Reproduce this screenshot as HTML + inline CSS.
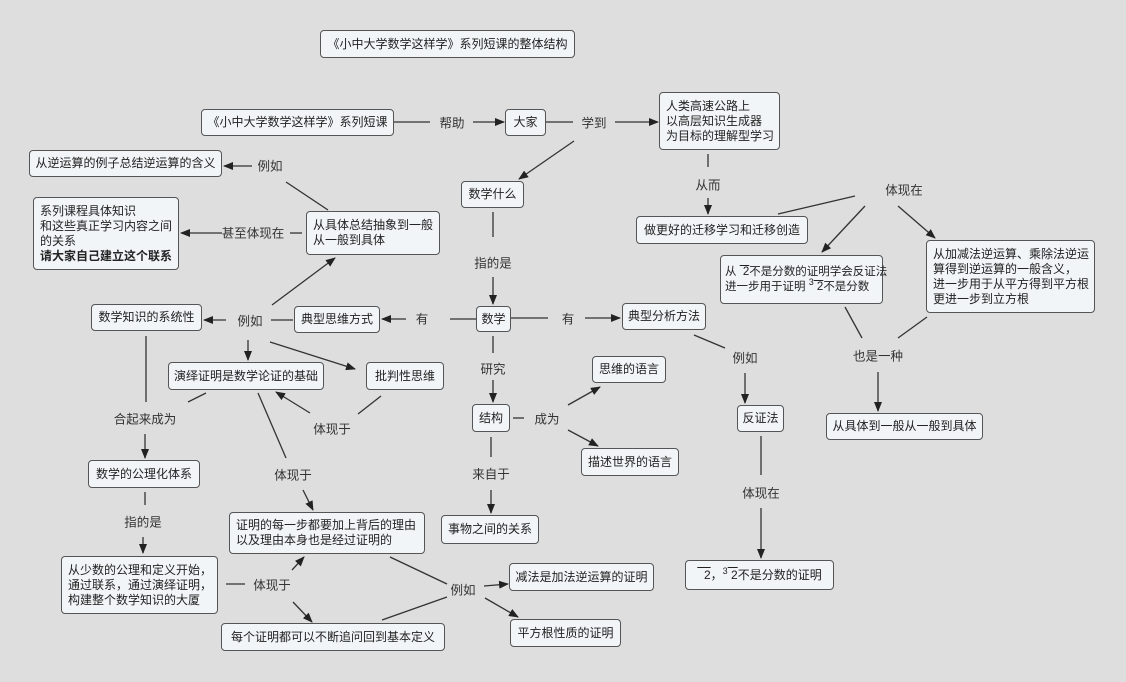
<!DOCTYPE html>
<html><head><meta charset="utf-8"><style>
body{margin:0;width:1126px;height:682px;background:#dedede;position:relative;overflow:hidden;font-family:"Liberation Sans","Noto Sans CJK SC",sans-serif;font-size:12px;color:#222}
.n{position:absolute;box-sizing:border-box;background:#f1f5f7;border:1.5px solid #555;border-radius:4px;padding:3px 6px;line-height:15px;white-space:nowrap;display:flex;flex-direction:column;justify-content:center}
.c{align-items:center}
.l{position:absolute;transform:translate(-50%,-50%);white-space:nowrap;font-size:12.5px;color:#333}
svg{position:absolute;left:0;top:0}
.ov{text-decoration:overline}
sup{font-size:9px;line-height:0}
</style></head><body>
<svg width="1126" height="682">
<defs><marker id="a" markerWidth="10" markerHeight="8" refX="9" refY="4" orient="auto" markerUnits="userSpaceOnUse"><path d="M0,0 L10,4 L0,8 z" fill="#222"/></marker></defs>
<g stroke="#333" stroke-width="1.3" fill="none">
<line x1="394" y1="122" x2="430" y2="122"/><line x1="473" y1="122" x2="504" y2="122" marker-end="url(#a)"/>
<line x1="546" y1="122" x2="573" y2="122"/><line x1="615" y1="122" x2="658" y2="122" marker-end="url(#a)"/>
<line x1="574" y1="141" x2="519" y2="179" marker-end="url(#a)"/>
<line x1="708" y1="154" x2="708" y2="167"/><line x1="708" y1="198" x2="708" y2="214" marker-end="url(#a)"/>
<line x1="778" y1="214" x2="855" y2="196"/>
<line x1="865" y1="206" x2="822" y2="252" marker-end="url(#a)"/>
<line x1="898" y1="206" x2="935" y2="238" marker-end="url(#a)"/>
<line x1="845" y1="307" x2="862" y2="338"/><line x1="898" y1="338" x2="927" y2="317"/>
<line x1="878" y1="372" x2="878" y2="411" marker-end="url(#a)"/>
<line x1="493" y1="212" x2="493" y2="237"/><line x1="493" y1="277" x2="493" y2="304" marker-end="url(#a)"/>
<line x1="476" y1="319" x2="450" y2="319"/><line x1="406" y1="319" x2="382" y2="319" marker-end="url(#a)"/>
<line x1="511" y1="318" x2="548" y2="318"/><line x1="585" y1="318" x2="620" y2="318" marker-end="url(#a)"/>
<line x1="694" y1="335" x2="725" y2="348"/><line x1="745" y1="373" x2="745" y2="403" marker-end="url(#a)"/>
<line x1="761" y1="436" x2="761" y2="475"/><line x1="761" y1="508" x2="761" y2="558" marker-end="url(#a)"/>
<line x1="493" y1="336" x2="493" y2="353"/><line x1="493" y1="380" x2="493" y2="402" marker-end="url(#a)"/>
<line x1="513" y1="418" x2="524" y2="418"/>
<line x1="568" y1="405" x2="600" y2="387" marker-end="url(#a)"/>
<line x1="568" y1="430" x2="598" y2="446" marker-end="url(#a)"/>
<line x1="491" y1="437" x2="491" y2="457"/><line x1="491" y1="490" x2="491" y2="513" marker-end="url(#a)"/>
<line x1="293" y1="320" x2="271" y2="320"/><line x1="226" y1="320" x2="204" y2="320" marker-end="url(#a)"/>
<line x1="272" y1="305" x2="335" y2="258" marker-end="url(#a)"/>
<line x1="248" y1="340" x2="248" y2="360" marker-end="url(#a)"/>
<line x1="270" y1="342" x2="355" y2="369" marker-end="url(#a)"/>
<line x1="328" y1="210" x2="286" y2="182"/><line x1="252" y1="166" x2="224" y2="166" marker-end="url(#a)"/>
<line x1="302" y1="233" x2="290" y2="233"/><line x1="222" y1="233" x2="181" y2="233" marker-end="url(#a)"/>
<line x1="146" y1="336" x2="146" y2="402"/><line x1="145" y1="434" x2="145" y2="458" marker-end="url(#a)"/>
<line x1="381" y1="396" x2="358" y2="414"/><line x1="310" y1="413" x2="276" y2="392" marker-end="url(#a)"/>
<line x1="206" y1="393" x2="188" y2="402"/>
<line x1="258" y1="393" x2="286" y2="458"/><line x1="303" y1="490" x2="313" y2="510" marker-end="url(#a)"/>
<line x1="145" y1="492" x2="145" y2="505"/><line x1="143" y1="537" x2="143" y2="553" marker-end="url(#a)"/>
<line x1="226" y1="584" x2="245" y2="584"/>
<line x1="292" y1="570" x2="304" y2="557" marker-end="url(#a)"/>
<line x1="293" y1="602" x2="312" y2="622" marker-end="url(#a)"/>
<line x1="390" y1="557" x2="447" y2="584"/><line x1="447" y1="597" x2="382" y2="620"/>
<line x1="484" y1="586" x2="508" y2="584" marker-end="url(#a)"/>
<line x1="485" y1="598" x2="518" y2="617" marker-end="url(#a)"/>
</g></svg>

<div class="n c" style="left:320px;top:30px;width:255px;height:28px">《小中大学数学这样学》系列短课的整体结构</div>
<div class="n c" style="left:201px;top:109px;width:193px;height:27px">《小中大学数学这样学》系列短课</div>
<div class="n c" style="left:505px;top:109px;width:41px;height:27px">大家</div>
<div class="n" style="left:659px;top:92px;width:121px;height:58px">人类高速公路上<br>以高层知识生成器<br>为目标的理解型学习</div>
<div class="n c" style="left:29px;top:150px;width:193px;height:27px">从逆运算的例子总结逆运算的含义</div>
<div class="n c" style="left:461px;top:181px;width:63px;height:27px">数学什么</div>
<div class="n" style="left:33px;top:197px;width:146px;height:73px">系列课程具体知识<br>和这些真正学习内容之间<br>的关系<br><b>请大家自己建立这个联系</b></div>
<div class="n" style="left:306px;top:211px;width:134px;height:44px">从具体总结抽象到一般<br>从一般到具体</div>
<div class="n c" style="left:636px;top:216px;width:172px;height:28px">做更好的迁移学习和迁移创造</div>
<div class="n" style="left:720px;top:255px;width:163px;height:49px;font-size:11.5px;padding:3px 4px"><div>从 <span class="ov">&nbsp;2</span>不是分数的证明学会反证法<br>进一步用于证明 <sup>3</sup><span class="ov">&nbsp;2</span>不是分数</div></div>
<div class="n" style="left:926px;top:240px;width:169px;height:73px">从加减法逆运算、乘除法逆运<br>算得到逆运算的一般含义，<br>进一步用于从平方得到平方根<br>更进一步到立方根</div>
<div class="n c" style="left:91px;top:304px;width:111px;height:27px">数学知识的系统性</div>
<div class="n c" style="left:294px;top:306px;width:86px;height:27px">典型思维方式</div>
<div class="n c" style="left:476px;top:306px;width:35px;height:26px">数学</div>
<div class="n c" style="left:622px;top:303px;width:84px;height:27px">典型分析方法</div>
<div class="n c" style="left:168px;top:362px;width:156px;height:28px">演绎证明是数学论证的基础</div>
<div class="n c" style="left:366px;top:362px;width:78px;height:28px">批判性思维</div>
<div class="n c" style="left:592px;top:356px;width:74px;height:27px">思维的语言</div>
<div class="n c" style="left:472px;top:404px;width:38px;height:28px">结构</div>
<div class="n c" style="left:737px;top:405px;width:47px;height:27px">反证法</div>
<div class="n c" style="left:581px;top:448px;width:98px;height:28px">描述世界的语言</div>
<div class="n c" style="left:826px;top:413px;width:157px;height:27px">从具体到一般从一般到具体</div>
<div class="n c" style="left:88px;top:460px;width:112px;height:28px">数学的公理化体系</div>
<div class="n" style="left:229px;top:512px;width:196px;height:42px">证明的每一步都要加上背后的理由<br>以及理由本身也是经过证明的</div>
<div class="n c" style="left:441px;top:515px;width:98px;height:29px">事物之间的关系</div>
<div class="n c" style="left:685px;top:560px;width:149px;height:30px"><div><span class="ov">&nbsp;&nbsp;2</span>，<sup>3</sup><span class="ov">&nbsp;2</span>不是分数的证明</div></div>
<div class="n" style="left:61px;top:556px;width:157px;height:58px">从少数的公理和定义开始，<br>通过联系，通过演绎证明，<br>构建整个数学知识的大厦</div>
<div class="n c" style="left:509px;top:563px;width:145px;height:28px">减法是加法逆运算的证明</div>
<div class="n c" style="left:221px;top:623px;width:224px;height:28px">每个证明都可以不断追问回到基本定义</div>
<div class="n c" style="left:510px;top:619px;width:111px;height:28px">平方根性质的证明</div>

<div class="l" style="left:452px;top:122px">帮助</div>
<div class="l" style="left:594px;top:122px">学到</div>
<div class="l" style="left:708px;top:184px">从而</div>
<div class="l" style="left:904px;top:189px">体现在</div>
<div class="l" style="left:878px;top:355px">也是一种</div>
<div class="l" style="left:493px;top:262px">指的是</div>
<div class="l" style="left:422px;top:318px">有</div>
<div class="l" style="left:568px;top:318px">有</div>
<div class="l" style="left:745px;top:357px">例如</div>
<div class="l" style="left:761px;top:492px">体现在</div>
<div class="l" style="left:493px;top:368px">研究</div>
<div class="l" style="left:547px;top:418px">成为</div>
<div class="l" style="left:491px;top:473px">来自于</div>
<div class="l" style="left:250px;top:320px">例如</div>
<div class="l" style="left:270px;top:165px">例如</div>
<div class="l" style="left:253px;top:232px">甚至体现在</div>
<div class="l" style="left:145px;top:418px">合起来成为</div>
<div class="l" style="left:332px;top:428px">体现于</div>
<div class="l" style="left:293px;top:474px">体现于</div>
<div class="l" style="left:143px;top:521px">指的是</div>
<div class="l" style="left:272px;top:584px">体现于</div>
<div class="l" style="left:463px;top:589px">例如</div>
</body></html>
